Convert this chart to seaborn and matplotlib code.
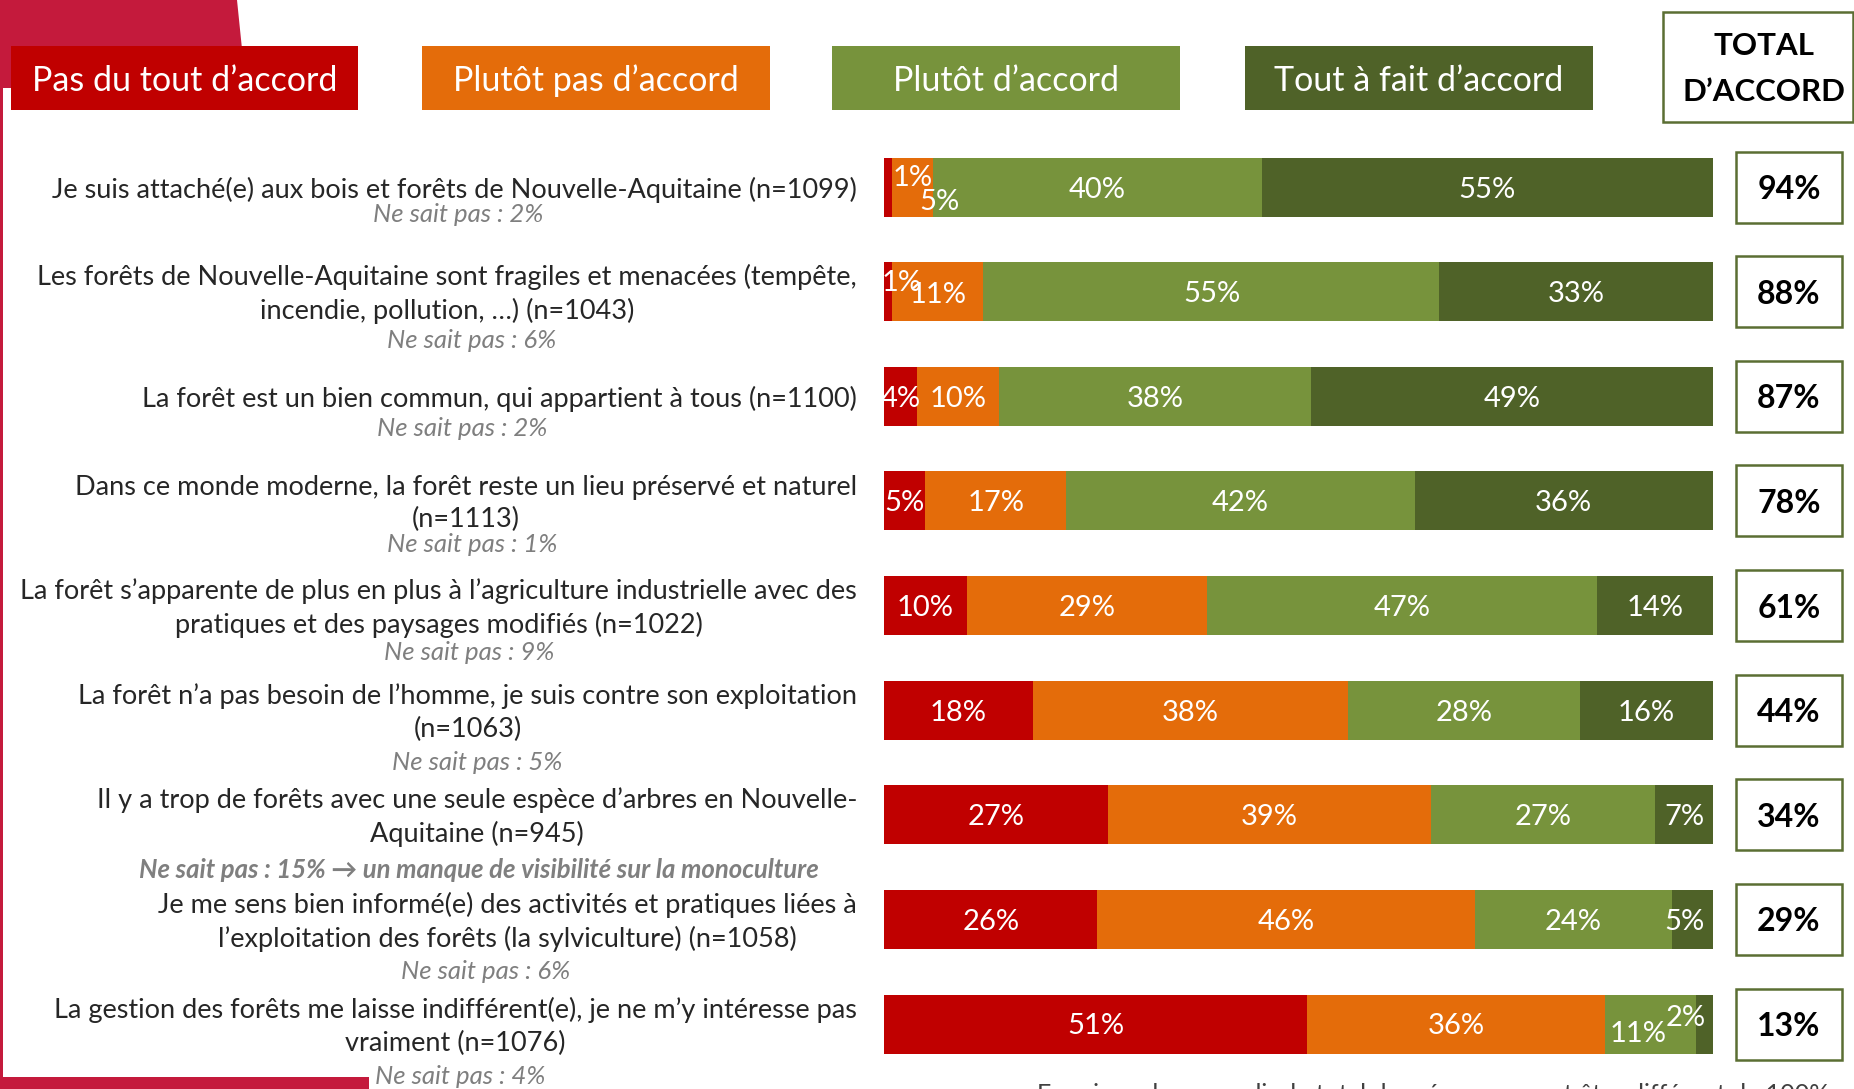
import numpy as np
import pandas as pd
import matplotlib
matplotlib.use("Agg")
import matplotlib.pyplot as plt
import seaborn as sns
from matplotlib.patches import Rectangle, Polygon
from matplotlib.transforms import blended_transform_factory, offset_copy

# ---------------- data ----------------
statements = [
    "Je suis attaché(e) aux bois et forêts de Nouvelle-Aquitaine (n=1099)",
    "Les forêts de Nouvelle-Aquitaine sont fragiles et menacées (tempête,\nincendie, pollution, …) (n=1043)",
    "La forêt est un bien commun, qui appartient à tous (n=1100)",
    "Dans ce monde moderne, la forêt reste un lieu préservé et naturel\n(n=1113)",
    "La forêt s’apparente de plus en plus à l’agriculture industrielle avec des\npratiques et des paysages modifiés (n=1022)",
    "La forêt n’a pas besoin de l’homme, je suis contre son exploitation\n(n=1063)",
    "Il y a trop de forêts avec une seule espèce d’arbres en Nouvelle-\nAquitaine (n=945)",
    "Je me sens bien informé(e) des activités et pratiques liées à\nl’exploitation des forêts (la sylviculture) (n=1058)",
    "La gestion des forêts me laisse indifférent(e), je ne m’y intéresse pas\nvraiment (n=1076)",
]
pas_du_tout = [1, 1, 4, 5, 10, 18, 27, 26, 51]
plutot_pas = [5, 11, 10, 17, 29, 38, 39, 46, 36]
plutot_accord = [40, 55, 38, 42, 47, 28, 27, 24, 11]
tout_a_fait = [55, 33, 49, 36, 14, 16, 7, 5, 2]
total_accord = [94, 88, 87, 78, 61, 44, 34, 29, 13]
ne_sait_pas = [
    "Ne sait pas : 2%", "Ne sait pas : 6%", "Ne sait pas : 2%", "Ne sait pas : 1%",
    "Ne sait pas : 9%", "Ne sait pas : 5%",
    "Ne sait pas : 15% \u2192 un manque de visibilité sur la monoculture",
    "Ne sait pas : 6%", "Ne sait pas : 4%",
]
legend_labels = ["Pas du tout d’accord", "Plutôt pas d’accord", "Plutôt d’accord", "Tout à fait d’accord"]
total_title = "TOTAL\nD’ACCORD"
footnote = "En raison des arrondis, le total des réponses peut être différent de 100%"

# ---------------- style ----------------
colors = ["#C00000", "#E46C0A", "#77933C", "#4F6228"]
deco = "#C41A3C"
olive = "#5B6E33"

W, H, DPI = 1854, 1089, 100
sns.set_theme(style="white")
plt.rcParams["font.family"] = ["Lato", "DejaVu Sans"]

fig = plt.figure(figsize=(W / DPI, H / DPI), dpi=DPI)

def fx(x):
    return x / W

def fy(y):
    return 1 - y / H

# bar axes: x 884..1713 px, rows centred 187..1024 px
row_px = (1024 - 187) / 8
ax_top = 187 - row_px / 2
ax_bot = 1024 + row_px / 2
ax = fig.add_axes([fx(884), fy(ax_bot), fx(1713) - fx(884), (ax_bot - ax_top) / H])

segs = np.array([pas_du_tout, plutot_pas, plutot_accord, tout_a_fait], dtype=float)
norm = segs / segs.sum(axis=0) * 100
cum = np.cumsum(norm, axis=0)
keys = [f"r{i}" for i in range(len(statements))]

bar_h = 59 / row_px
for k in range(3, -1, -1):
    df = pd.DataFrame({"row": keys, "cum": cum[k]})
    sns.barplot(data=df, x="cum", y="row", order=keys, orient="h", color=colors[k],
                saturation=1, width=bar_h, linewidth=0, ax=ax)

ax.set_xlim(0, 100)
ax.set_ylim(len(keys) - 0.5, -0.5)
ax.axis("off")

TXT_DY = 2.5  # small downward nudge for visual centring

# value labels in bars
lbl_offsets = {(0, 0): (25, -11), (0, 1): (27, 12), (1, 0): (14, -11), (1, 1): (0, 1),
               (8, 2): (-13, 7), (8, 3): (-19, -9), (7, 3): (-8, 0)}
for i in range(len(keys)):
    for k in range(4):
        left = cum[k][i] - norm[k][i]
        cx = left + norm[k][i] / 2
        dx, dy = lbl_offsets.get((i, k), (0, 0))
        tr = offset_copy(ax.transData, fig=fig, x=dx, y=-(dy + TXT_DY), units="dots")
        ax.text(cx, i, f"{int(segs[k][i])}%", transform=tr, ha="center", va="center",
                color="white", fontsize=21)

# statement labels + "ne sait pas"
blend = blended_transform_factory(fig.transFigure, ax.transData)
nsp_x = [458, 472, 462, 472, 469, 477, 479, 486, 460]
nsp_dy = [28, 49, 32, 44, 47, 52, 55, 52, 53]
for i, s in enumerate(statements):
    trl = offset_copy(blend, fig=fig, x=0, y=-TXT_DY, units="dots")
    ax.text(fx(857), i, s, transform=trl, ha="right", va="center", multialignment="center",
            fontsize=19.5, color="#262626", linespacing=1.36, clip_on=False)
    tr = offset_copy(blend, fig=fig, x=0, y=-nsp_dy[i], units="dots")
    bold = (i == 6)
    ax.text(fx(nsp_x[i]), i, ne_sait_pas[i], transform=tr, ha="center", va="center",
            fontsize=18.5, style="italic", color="#7F7F7F",
            fontweight="bold" if bold else "normal", clip_on=False)
    # total boxes
    yc = 187 + i * row_px
    fig.add_artist(Rectangle((fx(1736), fy(yc + 35.5)), fx(106), 71 / H,
                             transform=fig.transFigure, facecolor="white", edgecolor=olive,
                             lw=1.8, zorder=2))
    fig.text(fx(1789), fy(yc + TXT_DY), f"{total_accord[i]}%", ha="center", va="center",
             fontsize=23, fontweight="bold", color="black", zorder=5)

# decorative shapes
fig.add_artist(Polygon([(fx(0), fy(0)), (fx(237), fy(0)), (fx(246), fy(88)), (fx(0), fy(88))],
                       closed=True, transform=fig.transFigure, facecolor=deco, edgecolor="none"))
fig.add_artist(Rectangle((0, fy(1089)), fx(2.5), (1089 - 88) / H, transform=fig.transFigure,
                         facecolor=deco, edgecolor="none"))
fig.add_artist(Rectangle((0, fy(1089)), fx(369), 12 / H, transform=fig.transFigure,
                         facecolor=deco, edgecolor="none"))

# legend boxes
leg_x = [(11, 358), (422, 770), (832, 1180), (1245, 1593)]
for (x0, x1), lab, c in zip(leg_x, legend_labels, colors):
    fig.add_artist(Rectangle((fx(x0), fy(110)), fx(x1 - x0), 64 / H, transform=fig.transFigure,
                             facecolor=c, edgecolor="none", zorder=2))
    fig.text(fx((x0 + x1) / 2), fy(81), lab, ha="center", va="center", color="white",
             fontsize=24.5, zorder=5)

# total header
fig.add_artist(Rectangle((fx(1663), fy(122)), fx(190), 110 / H, transform=fig.transFigure,
                         facecolor="white", edgecolor=olive, lw=1.8, zorder=2))
fig.text(fx(1764), fy(69), total_title, ha="center", va="center", fontsize=22.5,
         fontweight="bold", color="black", linespacing=1.75, zorder=5)

# footnote (partly cut at the bottom edge)
fig.text(fx(1037), fy(1083), footnote, ha="left", va="top", fontsize=18, color="#404040")

fig.savefig("out.png", dpi=DPI)
